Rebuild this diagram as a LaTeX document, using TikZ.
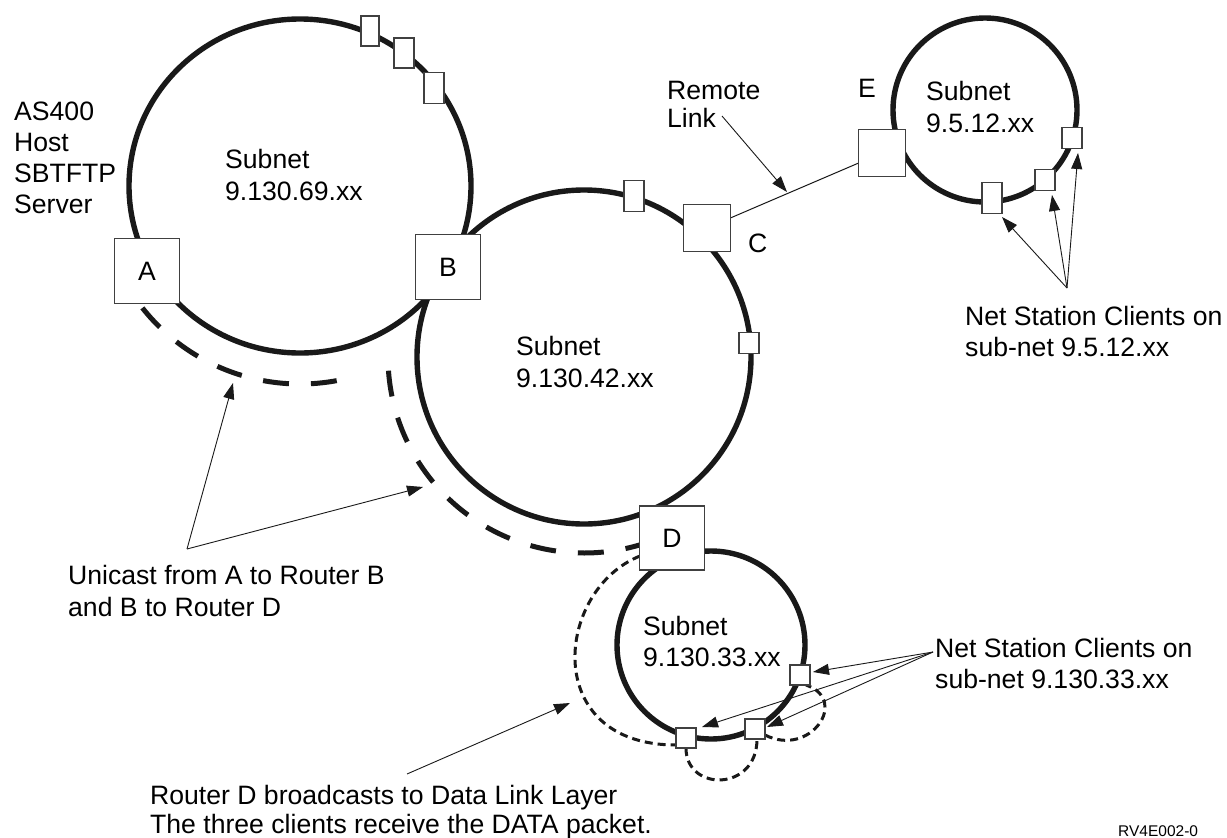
\documentclass[tikz,border=0pt]{standalone}
\usepackage{fontspec}
\setmainfont{Liberation Sans}
\usetikzlibrary{arrows.meta,backgrounds}
\newcommand\fsz{\fontsize{26.6}{31}\selectfont}
\begin{document}
\begin{tikzpicture}[x=1pt,y=-1pt,
  ring/.style={line width=5.4pt, draw=black!90},
  unicast/.style={line width=5pt, draw=black!90, dash pattern=on 26pt off 22pt},
  bcast/.style={line width=3pt, draw=black!90, dash pattern=on 8pt off 5pt},
  router/.style={draw=black!75, line width=1.2pt, fill=white, inner sep=0pt, minimum width=65pt, minimum height=65pt, font=\fsz},
  midbox/.style={draw=black!75, line width=1.2pt, fill=white, inner sep=0pt, minimum width=47pt, minimum height=47pt},
  station/.style={draw=black!75, line width=1.1pt, fill=white, inner sep=0pt, minimum width=20pt, minimum height=21pt},
  lbl/.style={anchor=base west, inner sep=0pt, font=\fsz},
  arr/.style={line width=0.9pt, draw=black!90, -{Triangle[length=16pt,width=11pt]}},
]
\useasboundingbox (0,0) rectangle (1227,838);

% routers and stations
\node[router] (A) at (147,271) {A};
\node[router] (B) at (448,267) {B};
\node[router, minimum height=64pt] (D) at (672,538) {D};
\node[midbox] (C) at (707,228) {};
\node[midbox] (E) at (882,153) {};

\node[station, minimum width=18pt, minimum height=30pt] (p1) at (370,31) {};
\node[station, minimum height=30pt] (p2) at (404,53) {};
\node[station, minimum height=31pt] (p3) at (434,88) {};

\node[station, minimum height=31pt] (q1) at (634,196) {};
\node[station] (q2) at (749,343) {};

\node[station, minimum height=31pt] (r1) at (992,198) {};
\node[station] (r2) at (1045,180) {};
\node[station] (r3) at (1072,138) {};

\node[station, minimum height=20pt] (s1) at (686,738) {};
\node[station, minimum height=20pt] (s2) at (755,729) {};
\node[station, minimum height=20pt] (s3) at (800,675) {};

\begin{pgfonlayer}{background}
  \draw[ring] (300,186) ellipse [x radius=171, y radius=167];
  \draw[ring] (584,357) circle [radius=167];
  \draw[ring] (985,110) circle [radius=92];
  \draw[ring] (711,645) circle [radius=94];
  % unicast paths
  \draw[unicast] (300,186) ++(142:200 and 198) arc[start angle=142, end angle=74, x radius=200, y radius=198];
  \draw[unicast] (584,357) ++(176:196) arc[start angle=176, end angle=72, radius=196];
  % broadcast paths
  \draw[bcast] (640,556) .. controls (555,590) and (540,745) .. (676,745);
  \draw[bcast] (686,748) .. controls (686,792) and (757,792) .. (757,739);
  \draw[bcast] (765,735) .. controls (810,758) and (850,700) .. (806,685);
  % remote link
  \draw[line width=1pt, draw=black!90] (C) -- (E);
\end{pgfonlayer}

% texts
\node[lbl] (h1) at (14,120) {AS400};
\node[lbl] (h2) at (14,151) {Host};
\node[lbl] (h3) at (14,182) {SBTFTP};
\node[lbl] (h4) at (14,213) {Server};

\node[lbl] (n69a) at (225,168) {Subnet};
\node[lbl] (n69b) at (225,200) {9.130.69.xx};
\node[lbl] (n42a) at (516,355) {Subnet};
\node[lbl] (n42b) at (516,387) {9.130.42.xx};
\node[lbl] (n5a) at (926,100) {Subnet};
\node[lbl] (n5b) at (926,132) {9.5.12.xx};
\node[lbl] (n33a) at (643,635) {Subnet};
\node[lbl] (n33b) at (643,666) {9.130.33.xx};

\node[lbl] (rl1) at (667,99) {Remote};
\node[lbl] (rl2) at (667,127) {Link};
\node[lbl] (lE) at (858,97) {E};
\node[lbl] (lC) at (748,252) {C};

\node[lbl] (ns1) at (965,325) {Net Station Clients on};
\node[lbl] (ns2) at (965,356) {sub-net 9.5.12.xx};
\node[lbl] (nt1) at (935,657) {Net Station Clients on};
\node[lbl] (nt2) at (935,688) {sub-net 9.130.33.xx};
\node[lbl] (uc1) at (68,584) {Unicast from A to Router B};
\node[lbl] (uc2) at (68,616) {and B to Router D};
\node[lbl] (bd1) at (150,804) {Router D broadcasts to Data Link Layer};
\node[lbl] (bd2) at (150,833) {The three clients receive the DATA packet.};
\node[anchor=base west, inner sep=0pt, font=\fontsize{15.5}{18}\selectfont] (ref) at (1118,836) {RV4E002-0};

% annotation arrows
\coordinate (rlo) at (722,116);
\coordinate (rlt) at (787,192);
\draw[arr] (rlo) -- (rlt);

\coordinate (o5) at (1067,288);
\coordinate (t51) at (1002,217);
\coordinate (t52) at (1052,195);
\coordinate (t53) at (1078,153);
\draw[arr] (o5) -- (t51);
\draw[arr] (o5) -- (t52);
\draw[arr] (o5) -- (t53);

\coordinate (o33) at (933,652);
\coordinate (t331) at (702,727);
\coordinate (t332) at (767,727);
\coordinate (t333) at (813,672);
\draw[arr] (o33) -- (t331);
\draw[arr] (o33) -- (t332);
\draw[arr] (o33) -- (t333);

\coordinate (uo) at (187,549);
\coordinate (ut1) at (233,383);
\coordinate (ut2) at (423,487);
\draw[arr] (uo) -- (ut1);
\draw[arr] (uo) -- (ut2);

\coordinate (bo) at (407,774);
\coordinate (bt) at (570,703);
\draw[arr] (bo) -- (bt);
\end{tikzpicture}
\end{document}
